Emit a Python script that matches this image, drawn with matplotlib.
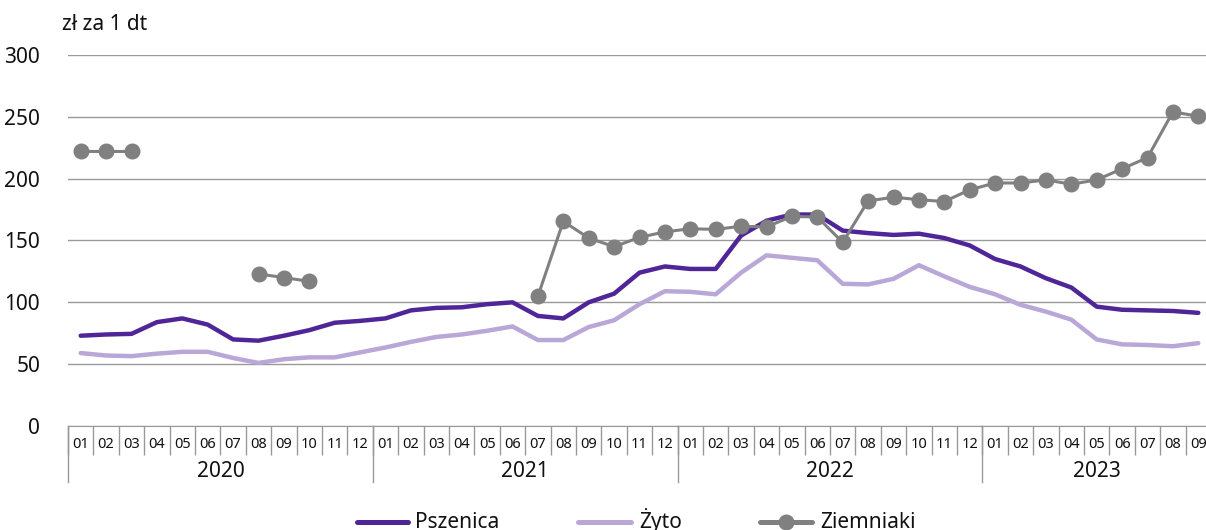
import numpy as np
import matplotlib
matplotlib.use("Agg")
import matplotlib.pyplot as plt
from matplotlib.lines import Line2D

plt.rcParams['font.family'] = ['Noto Sans', 'DejaVu Sans']

years = ['2020', '2021', '2022', '2023']
months = ['01', '02', '03', '04', '05', '06', '07', '08', '09', '10', '11', '12'] * 3 + \
         ['01', '02', '03', '04', '05', '06', '07', '08', '09']
series_names = ['Pszenica', 'Żyto', 'Ziemniaki']

pszenica = [73, 74, 74.5, 84, 87, 82, 70, 69, 73, 77.5, 83.5, 85,
            87, 93.5, 95.5, 96, 98.5, 100, 89, 87, 100, 107, 124, 129,
            127, 127, 154, 166, 171, 171, 158, 156, 154.5, 155.5, 152, 146,
            135, 129, 119.5, 112, 96.5, 94, 93.5, 93, 91.5]
zyto = [59, 57, 56.5, 58.5, 60, 60, 55, 51, 54, 55.5, 55.5, 59.5,
        63.5, 68, 72, 74, 77, 80.5, 69.5, 69.5, 80, 85.5, 98.5, 109,
        108.5, 106.5, 124, 138, 136, 134, 115, 114.5, 119, 130, 121, 112.5,
        106.5, 98, 92.5, 86, 70, 66, 65.5, 64.5, 67]
ziemniaki = [222, 222, 222, np.nan, np.nan, np.nan, np.nan, 123, 120, 117, np.nan, np.nan,
             np.nan, np.nan, np.nan, np.nan, np.nan, np.nan, 105, 165.5, 152, 145, 152.5, 157,
             159.5, 159, 161.5, 161, 169.5, 169, 148.5, 182, 185, 183, 181.5, 191,
             196.5, 196.5, 199, 195.5, 199, 208, 217, 254, 250.5]

c_psz = '#4f2597'
c_zyt = '#b9a7d8'
c_zie = '#808080'
c_grid = '#999999'
c_text = '#111111'

W, H = 1206, 530
fig = plt.figure(figsize=(W / 100, H / 100), dpi=100)
n = len(months)
left_px, right_px = 68, 68 + 25.4 * n
bot_px, top_px = 426, 55
ax = fig.add_axes([left_px / W, 1 - bot_px / H, (right_px - left_px) / W, (bot_px - top_px) / H])

x = np.arange(n)
ax.plot(x, zyto, color=c_zyt, lw=3.2, solid_capstyle='round', zorder=3)
ax.plot(x, pszenica, color=c_psz, lw=3.2, solid_capstyle='round', zorder=4)
ax.plot(x, ziemniaki, color=c_zie, lw=2.2, marker='o', markersize=10.5, zorder=5)

ax.set_xlim(-0.5, n - 0.5)
ax.set_ylim(0, 300)
ax.set_yticks(np.arange(0, 301, 50))
ax.yaxis.grid(True, color=c_grid, lw=1)
ax.set_axisbelow(True)
for s in ['left', 'right', 'top']:
    ax.spines[s].set_visible(False)
ax.spines['bottom'].set_color(c_grid)
ax.tick_params(axis='y', length=0, pad=20, labelsize=15, labelcolor=c_text)

ax.set_xticks(x)
ax.set_xticklabels(months)
ax.tick_params(axis='x', which='major', length=0, pad=8, labelsize=10.5, labelcolor=c_text)
ax.set_xticks(np.arange(-0.5, n, 1), minor=True)
ax.tick_params(axis='x', which='minor', length=21, color=c_grid, width=1)

trans = ax.get_xaxis_transform()
for k in range(len(years) + 1):
    xb = 12 * k - 0.5
    if xb <= n - 0.5:
        ax.plot([xb, xb], [0, -0.15], transform=trans, color=c_grid, lw=1, clip_on=False)
for k, yr in enumerate(years):
    cnt = min(12, n - 12 * k)
    ax.text(12 * k + (cnt - 1) / 2, -0.122, yr, transform=trans, ha='center', va='center',
            fontsize=15, color=c_text)

fig.text(62 / W, 1 - 25 / H, 'zł za 1 dt', fontsize=15, va='center', ha='left', color=c_text)

# legend drawn manually to match the reference positions
styles = [dict(color=c_psz, lw=3.6, solid_capstyle='round'),
          dict(color=c_zyt, lw=3.6, solid_capstyle='round'),
          dict(color=c_zie, lw=3.6, solid_capstyle='round', marker='o', markersize=10.5,
               markevery=[1])]
handle_px = [(357, 408), (578, 631), (760, 812)]
text_px = [415, 639, 820]
y_leg = 1 - 522 / H
for name, st, (h0, h1), tx in zip(series_names, styles, handle_px, text_px):
    fig.add_artist(Line2D([h0 / W, (h0 + h1) / 2 / W, h1 / W], [y_leg] * 3,
                          transform=fig.transFigure, **st))
    fig.text(tx / W, 1 - 528 / H, name, fontsize=15, ha='left', va='baseline', color=c_text)

fig.savefig('out.png', dpi=100)
